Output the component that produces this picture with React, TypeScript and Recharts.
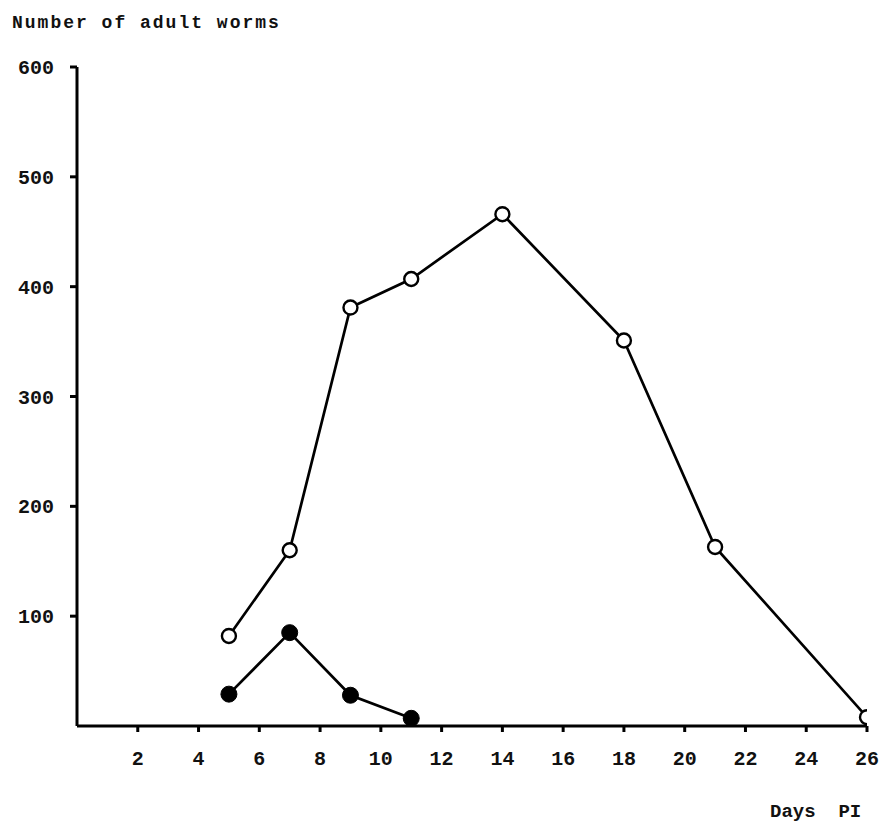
import React from "react";
import { LineChart, Line, XAxis, YAxis } from "recharts";

const openDays = [5, 7, 9, 11, 14, 18, 21, 26];
const openWorms = [82, 160, 381, 407, 466, 351, 163, 8];
const filledDays = [5, 7, 9, 11];
const filledWorms = [29, 85, 28, 7];
const xTicks = [2, 4, 6, 8, 10, 12, 14, 16, 18, 20, 22, 24, 26];
const yTicks = [100, 200, 300, 400, 500, 600];

const openData = openDays.map((d, i) => ({ day: d, worms: openWorms[i] }));
const filledData = filledDays.map((d, i) => ({ day: d, worms: filledWorms[i] }));

const FONT = "'Liberation Mono', 'DejaVu Sans Mono', monospace";

const OpenDot = (props: any) => {
  const { cx, cy } = props;
  if (cx == null || cy == null) return null;
  return <circle cx={cx} cy={cy} r={7} fill="#fff" stroke="#000" strokeWidth={2.4} />;
};
const FilledDot = (props: any) => {
  const { cx, cy } = props;
  if (cx == null || cy == null) return null;
  return <circle cx={cx} cy={cy} r={8} fill="#000" stroke="#000" strokeWidth={1} />;
};

const tickStyle = {
  fontFamily: FONT,
  fontWeight: 700,
  fontSize: 20,
  fill: "#111",
};

export default function App() {
  return (
    <div style={{ position: "absolute", left: 0, top: 0, width: 889, height: 828, background: "#fff" }}>
      <div
        style={{
          position: "absolute",
          left: 12,
          top: 13,
          fontFamily: FONT,
          fontWeight: 700,
          fontSize: 18,
          letterSpacing: 2,
          color: "#111",
          whiteSpace: "nowrap",
        }}
      >
        Number of adult worms
      </div>
      <div
        style={{
          position: "absolute",
          left: 770,
          top: 801,
          fontFamily: FONT,
          fontWeight: 700,
          fontSize: 19,
          color: "#111",
          whiteSpace: "pre",
        }}
      >
        {"Days  PI"}
      </div>
      <LineChart
        width={889}
        height={828}
        margin={{ top: 67, right: 22, bottom: 72, left: 0 }}
        style={{ position: "absolute", left: 0, top: 0 }}
      >
        <XAxis
          dataKey="day"
          type="number"
          domain={[0, 26]}
          ticks={xTicks}
          allowDataOverflow
          height={30}
          tickSize={6}
          tickMargin={19}
          tick={tickStyle}
          axisLine={{ stroke: "#000", strokeWidth: 3 }}
          tickLine={{ stroke: "#000", strokeWidth: 3 }}
        />
        <YAxis
          dataKey="worms"
          type="number"
          domain={[0, 600]}
          ticks={yTicks}
          width={77}
          tickSize={7}
          tickMargin={16}
          tick={tickStyle}
          axisLine={{ stroke: "#000", strokeWidth: 3 }}
          tickLine={{ stroke: "#000", strokeWidth: 3 }}
        />
        <Line
          data={openData}
          dataKey="worms"
          stroke="#000"
          strokeWidth={2.7}
          dot={<OpenDot />}
          activeDot={false}
          isAnimationActive={false}
        />
        <Line
          data={filledData}
          dataKey="worms"
          stroke="#000"
          strokeWidth={2.7}
          dot={<FilledDot />}
          activeDot={false}
          isAnimationActive={false}
        />
      </LineChart>
    </div>
  );
}
